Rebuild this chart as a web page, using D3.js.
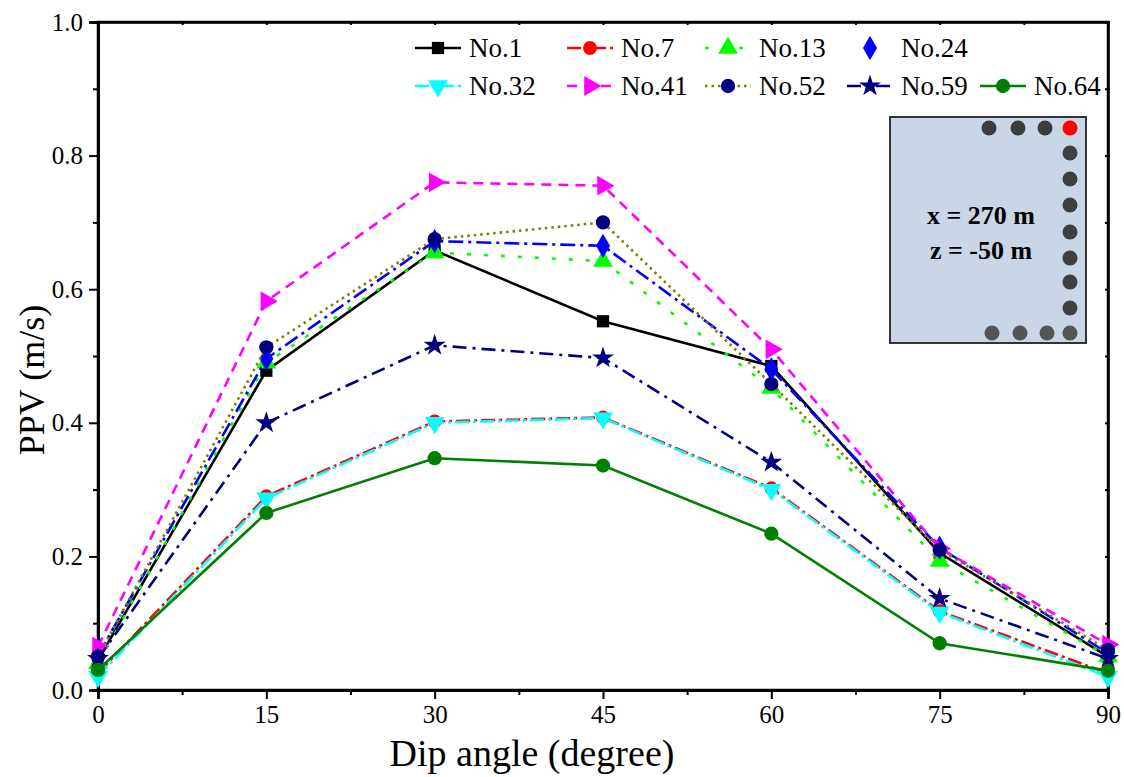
<!DOCTYPE html>
<meta charset="utf-8">
<title>PPV vs dip angle</title>
<script src="https://d3js.org/d3.v7.min.js"></script>
<style>
  body { margin: 0; background: #fff; }
</style>
<body>
<div id="chart"></div>
<script>

// data
var angles = [0, 15, 30, 45, 60, 75, 90];
var names = ["No.1", "No.7", "No.13", "No.24", "No.32", "No.41", "No.52", "No.59", "No.64"];
var no1  = [0.045, 0.478, 0.658, 0.552, 0.485, 0.205, 0.050];
var no7  = [0.025, 0.290, 0.402, 0.408, 0.302, 0.118, 0.025];
var no13 = [0.040, 0.490, 0.655, 0.642, 0.452, 0.193, 0.050];
var no24 = [0.052, 0.496, 0.672, 0.665, 0.480, 0.213, 0.055];
var no32 = [0.020, 0.287, 0.400, 0.407, 0.300, 0.116, 0.020];
var no41 = [0.065, 0.582, 0.760, 0.755, 0.510, 0.212, 0.068];
var no52 = [0.050, 0.513, 0.675, 0.700, 0.458, 0.210, 0.060];
var no59 = [0.047, 0.400, 0.516, 0.497, 0.341, 0.137, 0.047];
var no64 = [0.030, 0.265, 0.347, 0.336, 0.234, 0.070, 0.029];
var yTicks = [0, 0.2, 0.4, 0.6, 0.8, 1.0];
var xTicks = [0, 15, 30, 45, 60, 75, 90];

var seriesValues = [no1, no7, no13, no24, no32, no41, no52, no59, no64];

var serif = '"Liberation Serif", "Times New Roman", serif';

// styling per series
var lineColors = ["#000000", "#ff0000", "#00ff00", "#0000ff", "#00ffff", "#ff00ff", "#808000", "#000080", "#008000"];
var markColors = ["#000000", "#ff0000", "#00ff00", "#0000ff", "#00ffff", "#ff00ff", "#000080", "#000080", "#008000"];
var dashes = [null, "14,4,3,4", "4,13", "15,5,3,5", "14,4,3,4", "10,7", "2.5,4", "14,6,3,6", null];
var symbols = [
  {type: d3.symbolSquare, size: 150, rot: 0},
  {type: d3.symbolCircle, size: 150, rot: 0},
  {type: d3.symbolTriangle, size: 170, rot: 0},
  {type: d3.symbolDiamond, size: 170, rot: 0},
  {type: d3.symbolTriangle, size: 170, rot: 180},
  {type: d3.symbolTriangle, size: 170, rot: 90},
  {type: d3.symbolCircle, size: 160, rot: 0},
  {type: d3.symbolStar, size: 150, rot: 0},
  {type: d3.symbolCircle, size: 160, rot: 0}
];

var series = names.map(function(n, i) {
  return {name: n, values: seriesValues[i].map(function(v, j) { return {x: angles[j], y: v}; })};
});

var W = 1124, H = 777;
var margin = {top: 22, right: 16, bottom: 87, left: 98},
    width = W - margin.left - margin.right,
    height = H - margin.top - margin.bottom;

var svg = d3.select("#chart").append("svg")
    .attr("width", W)
    .attr("height", H)
  .append("g")
    .attr("transform", "translate(" + margin.left + "," + margin.top + ")");

var x = d3.scaleLinear().domain([0, 90]).range([0, width]);
var y = d3.scaleLinear().domain([0, 1]).range([height, 0]);

// frame
svg.append("rect")
  .attr("width", width).attr("height", height)
  .attr("fill", "none").attr("stroke", "#000").attr("stroke-width", 2.5);

// axes
var xAxis = svg.append("g")
  .attr("transform", "translate(0," + height + ")")
  .call(d3.axisBottom(x).tickValues(xTicks).tickSize(9).tickPadding(6).tickFormat(d3.format("d")));
var xMinor = svg.append("g")
  .attr("transform", "translate(0," + height + ")")
  .call(d3.axisBottom(x).tickValues(d3.range(7.5, 90, 15)).tickSize(5).tickFormat(""));

var yAxis = svg.append("g")
  .call(d3.axisLeft(y).tickValues(yTicks).tickSize(9).tickPadding(6).tickFormat(d3.format(".1f")));
var yMinor = svg.append("g")
  .call(d3.axisLeft(y).tickValues(d3.range(0.1, 1, 0.2)).tickSize(5).tickFormat(""));

// small mirrored ticks on top / right
svg.append("g")
  .call(d3.axisBottom(x).tickValues(d3.range(0, 91, 7.5)).tickSize(3).tickFormat(""));
svg.append("g")
  .attr("transform", "translate(" + width + ",0)")
  .call(d3.axisLeft(y).tickValues(d3.range(0, 1.01, 0.1)).tickSize(3).tickFormat(""));

svg.selectAll(".domain").attr("stroke-width", 2.5);
svg.selectAll(".tick line").attr("stroke-width", 2);
svg.selectAll(".tick text")
  .style("font-size", "25px")
  .style("font-family", serif);

// axis titles
svg.append("text")
  .attr("x", 434)
  .attr("y", height + 76)
  .attr("text-anchor", "middle")
  .style("font-size", "38px")
  .style("font-family", serif)
  .text("Dip angle (degree)");

svg.append("text")
  .attr("transform", "translate(-54," + (height / 2 + 24) + ") rotate(-90)")
  .attr("text-anchor", "middle")
  .style("font-size", "36px")
  .style("font-family", serif)
  .text("PPV (m/s)");

// lines
var line = d3.line()
  .x(function(d) { return x(d.x); })
  .y(function(d) { return y(d.y); });

var groups = svg.selectAll(".series")
  .data(series)
  .enter().append("g")
  .attr("class", "series");

groups.append("path")
  .attr("d", function(d) { return line(d.values); })
  .attr("fill", "none")
  .attr("stroke", function(d, i) { return lineColors[i]; })
  .attr("stroke-width", 2.6)
  .attr("stroke-dasharray", function(d, i) { return dashes[i]; });

groups.each(function(s, i) {
  d3.select(this).selectAll("path.mark")
    .data(s.values)
    .enter().append("path")
    .attr("class", "mark")
    .attr("d", d3.symbol().type(symbols[i].type).size(symbols[i].size))
    .attr("transform", function(d) { return "translate(" + x(d.x) + "," + y(d.y) + ") rotate(" + symbols[i].rot + ")"; })
    .attr("fill", markColors[i]);
});

// legend
var legX = [340, 492, 630, 772, 905];
var legY = [26, 64];
var legend = svg.selectAll(".leg")
  .data(series)
  .enter().append("g")
  .attr("class", "leg")
  .attr("transform", function(d, i) {
    var row = i < 4 ? 0 : 1, col = i < 4 ? i : i - 4;
    return "translate(" + legX[col] + "," + legY[row] + ")";
  });

legend.append("line")
  .attr("x1", -23).attr("x2", 23)
  .attr("stroke", function(d, i) { return lineColors[i]; })
  .attr("stroke-width", 2.6)
  .attr("stroke-dasharray", function(d, i) { return dashes[i]; })
  .attr("display", function(d, i) { return i === 3 ? "none" : null; });

legend.append("path")
  .attr("d", function(d, i) { return d3.symbol().type(symbols[i].type).size(symbols[i].size)(); })
  .attr("transform", function(d, i) { return "rotate(" + symbols[i].rot + ")"; })
  .attr("fill", function(d, i) { return markColors[i]; });

legend.append("text")
  .attr("x", 31)
  .attr("dy", "0.35em")
  .style("font-size", "27px")
  .style("font-family", serif)
  .text(function(d) { return d.name; });

// inset sketch of the monitoring points
var inset = svg.append("g").attr("transform", "translate(792,95)");
inset.append("rect")
  .attr("width", 196).attr("height", 226)
  .attr("fill", "#c9d6e5").attr("stroke", "#333").attr("stroke-width", 2);
var topRow = [99, 128, 155, 180];
topRow.forEach(function(cx, k) {
  inset.append("circle").attr("cx", cx).attr("cy", 11).attr("r", 7.5)
    .attr("fill", k === 3 ? "#ff0000" : "#3c3c3c");
});
[36, 62, 88, 115, 141, 165, 191].forEach(function(cy) {
  inset.append("circle").attr("cx", 180).attr("cy", cy).attr("r", 7.5).attr("fill", "#3f3f3f");
});
[102, 130, 157, 180].forEach(function(cx) {
  inset.append("circle").attr("cx", cx).attr("cy", 216).attr("r", 7.5).attr("fill", "#555");
});
inset.append("text").attr("x", 91).attr("y", 107).attr("text-anchor", "middle")
  .style("font-size", "26px").style("font-weight", "bold").style("font-family", serif).text("x = 270 m");
inset.append("text").attr("x", 91).attr("y", 142).attr("text-anchor", "middle")
  .style("font-size", "26px").style("font-weight", "bold").style("font-family", serif).text("z = -50 m");

</script>
</body>
